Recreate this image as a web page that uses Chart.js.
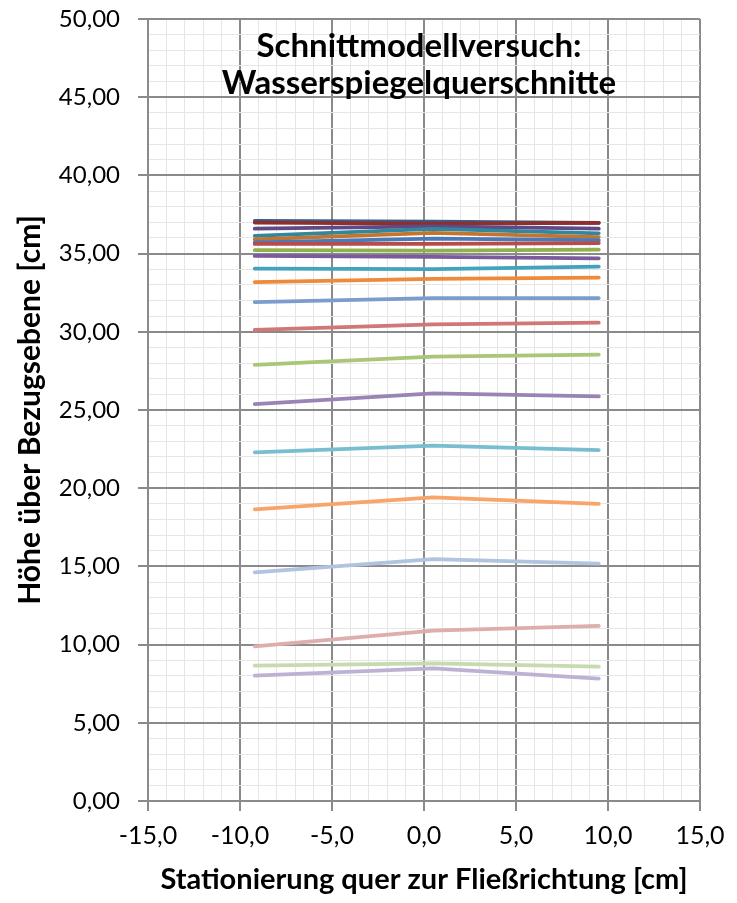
<!DOCTYPE html>
<html lang="de">
<head>
<meta charset="utf-8">
<title>Schnittmodellversuch: Wasserspiegelquerschnitte</title>
<script src="https://cdn.jsdelivr.net/npm/chart.js@4/dist/chart.umd.min.js"></script>
<style>
  html, body { margin: 0; padding: 0; background: #ffffff; }
  #wrap { width: 737px; height: 903px; }
</style>
</head>
<body>
<div id="wrap"><canvas id="chart" width="737" height="903"></canvas></div>
<script>
// Querstationen der Messpunkte [cm]
const stations = [-9.2, 0.5, 9.5];

// Wasserspiegelhöhen je Messquerschnitt [cm], von oben nach unten
const ws01 = [37.09, 37.04, 36.97];
const ws02 = [36.98, 36.92, 36.97];
const ws03 = [36.59, 36.74, 36.59];
const ws04 = [36.13, 36.58, 36.30];
const ws05 = [35.91, 36.33, 36.06];
const ws06 = [35.71, 35.95, 35.86];
const ws07 = [35.62, 35.62, 35.67];
const ws08 = [35.22, 35.19, 35.26];
const ws09 = [34.85, 34.79, 34.70];
const ws10 = [34.04, 34.00, 34.17];
const ws11 = [33.18, 33.38, 33.47];
const ws12 = [31.89, 32.16, 32.16];
const ws13 = [30.13, 30.48, 30.58];
const ws14 = [27.88, 28.41, 28.54];
const ws15 = [25.38, 26.07, 25.87];
const ws16 = [22.29, 22.72, 22.44];
const ws17 = [18.65, 19.42, 18.99];
const ws18 = [14.62, 15.47, 15.17];
const ws19 = [9.89, 10.89, 11.19];
const ws20 = [8.65, 8.80, 8.59];
const ws21 = [8.01, 8.48, 7.82];

const profiles = [ws01, ws02, ws03, ws04, ws05, ws06, ws07, ws08, ws09, ws10, ws11,
                  ws12, ws13, ws14, ws15, ws16, ws17, ws18, ws19, ws20, ws21];

// Achsenbereiche und Beschriftungen
const xRange = [-15, 15];
const yRange = [0, 50];
const majorStep = 5;
const titleLines = ['Schnittmodellversuch:', 'Wasserspiegelquerschnitte'];
const xTitle = 'Stationierung quer zur Fließrichtung [cm]';
const yTitle = 'Höhe über Bezugsebene [cm]';

const lineColors = [
  '#365f8f', '#8e2f2c', '#604985', '#2f889d', '#c5742f',
  '#4a7ab8', '#b94c49', '#91b14f', '#7a5c9c', '#43a3bd', '#ee8a3b',
  '#7b9dcd', '#cf7876', '#aac676', '#9a84b6', '#79bdd1', '#f8a56a',
  '#b0c3df', '#deaeac', '#c8dab0', '#bdb2d4'
];

// spätere Querschnitte liegen oben
const datasets = profiles.map((vals, i) => ({
  label: 'Querschnitt ' + (i + 1),
  data: stations.map((x, k) => ({ x: x, y: vals[k] })),
  order: profiles.length - i,
  borderColor: lineColors[i],
  backgroundColor: lineColors[i],
  borderWidth: 3.75,
  pointRadius: 0,
  pointHoverRadius: 0,
  tension: 0,
  fill: false,
  borderCapStyle: 'round',
  borderJoinStyle: 'round'
}));

const isMajor = v => Math.abs(v / majorStep - Math.round(v / majorStep)) < 1e-6;
const fmt = (v, d) => v.toFixed(d).replace('.', ',');

const FONT = "Lato, 'Open Sans', sans-serif";

// Diagrammtitel innerhalb der Zeichenfläche
const titlePlugin = {
  id: 'innerTitle',
  afterDraw(chart) {
    const { ctx, chartArea } = chart;
    ctx.save();
    ctx.fillStyle = '#000000';
    ctx.font = 'bold 33px ' + FONT;
    ctx.textAlign = 'center';
    ctx.textBaseline = 'alphabetic';
    const cx = (chartArea.left + chartArea.right) / 2 - 5;
    ctx.fillText(titleLines[0], cx, chartArea.top + 38);
    ctx.fillText(titleLines[1], cx, chartArea.top + 75);
    ctx.restore();
  }
};

new Chart(document.getElementById('chart'), {
  type: 'line',
  data: { datasets: datasets },
  plugins: [titlePlugin],
  options: {
    responsive: false,
    animation: false,
    devicePixelRatio: 1,
    layout: { padding: { left: 0, right: 37, top: 19, bottom: 0 } },
    plugins: {
      legend: { display: false },
      tooltip: { enabled: false },
      title: { display: false }
    },
    scales: {
      x: {
        type: 'linear',
        min: xRange[0],
        max: xRange[1],
        afterFit: s => {
          s.height = 102;
          s.paddingLeft = 0;
          s.paddingRight = 0;
        },
        afterBuildTicks: s => {
          const t = [];
          for (let v = xRange[0]; v <= xRange[1] + 1e-9; v += 1) t.push({ value: v });
          s.ticks = t;
        },
        ticks: {
          autoSkip: false,
          maxRotation: 0,
          padding: 10,
          color: '#000000',
          font: { family: FONT, size: 25 },
          callback: v => isMajor(v) ? fmt(v, 1) : ''
        },
        grid: {
          color: c => isMajor(c.tick.value) ? '#8a8a8a' : '#e6e6e6',
          lineWidth: c => isMajor(c.tick.value) ? 2 : 1,
          tickColor: c => isMajor(c.tick.value) ? '#8a8a8a' : 'rgba(0,0,0,0)',
          tickLength: 10,
          drawTicks: true
        },
        border: { color: '#8a8a8a', width: 2 },
        title: {
          display: true,
          text: xTitle,
          color: '#000000',
          font: { family: FONT, size: 29, weight: 'bold' },
          padding: { top: 0, bottom: 6 }
        }
      },
      y: {
        type: 'linear',
        min: yRange[0],
        max: yRange[1],
        afterFit: s => {
          s.width = 148;
          s.paddingTop = 0;
          s.paddingBottom = 0;
        },
        afterBuildTicks: s => {
          const t = [];
          for (let v = yRange[0]; v <= yRange[1] + 1e-9; v += 1) t.push({ value: v });
          s.ticks = t;
        },
        ticks: {
          autoSkip: false,
          padding: 18,
          color: '#000000',
          font: { family: FONT, size: 24 },
          callback: v => isMajor(v) ? fmt(v, 2) : ''
        },
        grid: {
          color: c => isMajor(c.tick.value) ? '#8a8a8a' : '#e6e6e6',
          lineWidth: c => isMajor(c.tick.value) ? 2 : 1,
          tickColor: c => isMajor(c.tick.value) ? '#8a8a8a' : 'rgba(0,0,0,0)',
          tickLength: 10,
          drawTicks: true
        },
        border: { color: '#8a8a8a', width: 2 },
        title: {
          display: true,
          text: yTitle,
          color: '#000000',
          font: { family: FONT, size: 30, weight: 'bold' },
          padding: { top: 12, bottom: 0 }
        }
      }
    }
  }
});
</script>
</body>
</html>
